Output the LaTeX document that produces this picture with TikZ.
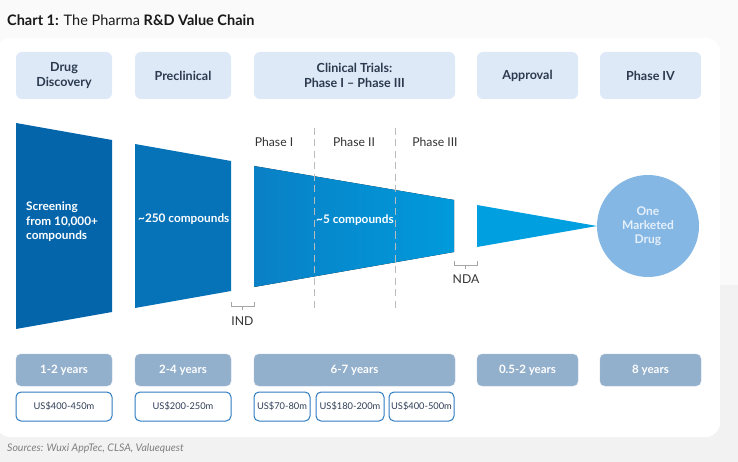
\documentclass[tikz,border=0pt]{standalone}
\usepackage{fontspec}
\setmainfont{Lato}
\definecolor{bgtop}{HTML}{FAFAFA}
\definecolor{bgbot}{HTML}{F2F2F2}
\definecolor{hdrfill}{HTML}{DDE9F6}
\definecolor{hdrtext}{HTML}{2B3A4F}
\definecolor{cA}{HTML}{0565AA}
\definecolor{cB}{HTML}{0672B7}
\definecolor{cC}{HTML}{0A80C6}
\definecolor{cD}{HTML}{009ADB}
\definecolor{cE}{HTML}{00A0E0}
\definecolor{cF}{HTML}{85B7E4}
\definecolor{drugtext}{HTML}{E4F0FB}
\definecolor{yearfill}{HTML}{92AFCC}
\definecolor{costline}{HTML}{2E7BBF}
\definecolor{costtext}{HTML}{2F3E55}
\definecolor{dashc}{HTML}{BBBBBB}
\definecolor{srcc}{HTML}{808080}
\tikzset{
  hdr/.style={fill=hdrfill, rounded corners=6pt, text=hdrtext, align=center,
    font=\fontsize{12.5}{14.5}\selectfont\bfseries, minimum height=47pt, inner sep=0pt},
  yearbox/.style={fill=yearfill, draw=yearfill!80!white, rounded corners=5pt, text=white,
    font=\fontsize{11.5}{13}\selectfont\bfseries, minimum height=32pt, inner sep=0pt},
  costbox/.style={fill=white, draw=costline, line width=1pt, rounded corners=5pt, text=costtext,
    font=\fontsize{9.3}{11}\selectfont, minimum height=29pt, inner sep=0pt},
  intext/.style={text=white, font=\fontsize{11.8}{14.5}\selectfont\bfseries, inner sep=0pt},
  phaselbl/.style={text=black!80, font=\fontsize{12.2}{14}\selectfont, inner sep=0pt},
  dashline/.style={draw=dashc, dashed, dash pattern=on 7pt off 4.5pt, line width=1pt},
  brk/.style={draw=black!35, line width=0.9pt},
}
\begin{document}
\begin{tikzpicture}[x=1pt,y=-1pt]
\useasboundingbox (0,0) rectangle (738,462);
\fill[bgtop] (0,0) rectangle (738,285);
\fill[bgbot] (0,285) rectangle (738,462);
\fill[white, rounded corners=14pt] (-4,38) rectangle (720,437);

\node[anchor=west, inner sep=0pt, font=\fontsize{14.5}{16}\selectfont, text=black!90] (title) at (7,20)
  {\textbf{Chart 1:} The Pharma \textbf{R\&D Value Chain}};

% header boxes
\node[hdr, minimum width=96pt] (h1) at (64,75.5) {Drug\\Discovery};
\node[hdr, minimum width=96pt] (h2) at (183,75.5) {Preclinical};
\node[hdr, minimum width=201pt] (h3) at (354.5,75.5) {Clinical Trials:\\Phase I -- Phase III};
\node[hdr, minimum width=101pt] (h4) at (527.5,75.5) {Approval};
\node[hdr, minimum width=101pt] (h5) at (650.5,75.5) {Phase IV};

% funnel shapes
\fill[cA] (16,123) -- (112,140) -- (112,312) -- (16,329) -- cycle;
\fill[cB] (135,144) -- (231,161) -- (231,291) -- (135,308) -- cycle;
\fill[left color=cC, right color=cD] (254,166) -- (454,200) -- (454,252) -- (254,287) -- cycle;
\fill[cE] (477,205) -- (597,226) -- (477,247) -- cycle;
\node[circle, fill=cF, minimum size=102pt, inner sep=0pt, text=drugtext, align=center,
  font=\fontsize{12}{14}\selectfont\bfseries] (drug) at (648,226) {One\\Marketed\\Drug};

% dashed phase separators
\coordinate (d1t) at (314,128); \coordinate (d1b) at (314,310);
\coordinate (d2t) at (395,128); \coordinate (d2b) at (395,310);
\draw[dashline] (d1t) -- (d1b);
\draw[dashline] (d2t) -- (d2b);

% texts in shapes
\node[intext, anchor=west, align=left] (s1) at (26,222) {Screening\\from 10,000+\\compounds};
\node[intext, anchor=west] (s2) at (138,219) {\textasciitilde250 compounds};
\node[intext, anchor=west] (s3) at (316,220) {\textasciitilde5 compounds};

% phase labels
\node[phaselbl] (p1) at (274,142) {Phase I};
\node[phaselbl] (p2) at (354,142) {Phase II};
\node[phaselbl] (p3) at (435,142) {Phase III};

% brackets
\coordinate (i1) at (231,302); \coordinate (i2) at (231,306);
\coordinate (i3) at (254,306); \coordinate (i4) at (254,302);
\coordinate (im) at (242.5,306); \coordinate (imb) at (242.5,309.5);
\draw[brk] (i1) -- (i2) -- (i3) -- (i4);
\draw[brk] (im) -- (imb);
\node[phaselbl] (ind) at (242.5,321) {IND};
\coordinate (n1) at (454,261); \coordinate (n2) at (454,265);
\coordinate (n3) at (477,265); \coordinate (n4) at (477,261);
\coordinate (nm) at (465.5,265); \coordinate (nmb) at (465.5,268.5);
\draw[brk] (n1) -- (n2) -- (n3) -- (n4);
\draw[brk] (nm) -- (nmb);
\node[phaselbl] (nda) at (466,279) {NDA};

% year boxes
\node[yearbox, minimum width=96pt] (y1) at (64,370) {1-2 years};
\node[yearbox, minimum width=96pt] (y2) at (183,370) {2-4 years};
\node[yearbox, minimum width=201pt] (y3) at (354.5,370) {6-7 years};
\node[yearbox, minimum width=101pt] (y4) at (527.5,370) {0.5-2 years};
\node[yearbox, minimum width=101pt] (y5) at (650.5,370) {8 years};

% cost boxes
\node[costbox, minimum width=96pt] (c1) at (64,406.5) {US\$400-450m};
\node[costbox, minimum width=96pt] (c2) at (183,406.5) {US\$200-250m};
\node[costbox, minimum width=56pt] (c3) at (282,406.5) {US\$70-80m};
\node[costbox, minimum width=68pt] (c4) at (350,406.5) {US\$180-200m};
\node[costbox, minimum width=65pt] (c5) at (421.5,406.5) {US\$400-500m};

\node[anchor=west, inner sep=0pt, text=srcc, font=\fontsize{10.5}{12}\selectfont\itshape] (src) at (7,449)
  {Sources: Wuxi AppTec, CLSA, Valuequest};
\end{tikzpicture}
\end{document}
